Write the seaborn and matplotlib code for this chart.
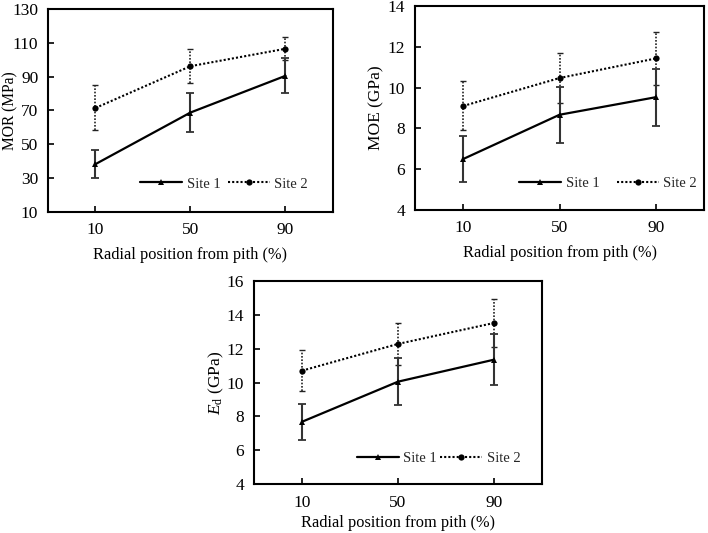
import numpy as np
import pandas as pd
import seaborn as sns
from matplotlib import pyplot as plt

# radial positions (% from pith)
positions = [10, 50, 90]
sites = ['Site 1', 'Site 2']

# MOR (MPa)
mor_site1 = [38.3, 68.8, 90.5]
mor_site1_sd = [8.5, 11.8, 10.4]
mor_site2 = [71.5, 96.2, 106.5]
mor_site2_sd = [13.3, 10.0, 6.7]

# MOE (GPa)
moe_site1 = [6.5, 8.67, 9.53]
moe_site1_sd = [1.14, 1.38, 1.4]
moe_site2 = [9.1, 10.47, 11.43]
moe_site2_sd = [1.2, 1.22, 1.3]

# Ed (GPa)
ed_site1 = [7.68, 10.05, 11.35]
ed_site1_sd = [1.05, 1.4, 1.52]
ed_site2 = [10.7, 12.28, 13.52]
ed_site2_sd = [1.2, 1.23, 1.4]

sns.set_theme(style='ticks')
plt.rcParams['font.family'] = ['Liberation Serif', 'DejaVu Serif']
plt.rcParams['mathtext.fontset'] = 'custom'
plt.rcParams['mathtext.rm'] = 'Liberation Serif'
plt.rcParams['mathtext.it'] = 'Liberation Serif:italic'

tick_fs = 12.5
label_fs = 11.8
legend_fs = 10.5


def panel(ax, s1, s1_sd, s2, s2_sd, ylabel, ylabel_fs, yticks, ylabel_x,
          legend_anchor, colspace, xtick_pad=7, xlabel_pad=7):
    df = pd.DataFrame({
        'pos': positions * 2,
        'val': s1 + s2,
        'site': [sites[0]] * 3 + [sites[1]] * 3,
    })
    # error bars first so the lines sit on top
    eb2 = ax.errorbar(positions, s2, yerr=s2_sd, fmt='none', ecolor='#222222',
                      elinewidth=1.2, capsize=2.5, capthick=1.0)
    eb2[2][0].set_linestyle((0, (1, 1)))
    ax.errorbar(positions, s1, yerr=s1_sd, fmt='none', ecolor='#333333',
                elinewidth=1.5, capsize=2.8, capthick=1.3)
    sns.lineplot(data=df, x='pos', y='val', style='site', hue='site',
                 palette=['black', 'black'], markers=['^', 'o'],
                 dashes=[(None, None), (1, 1)], markersize=4.5,
                 markeredgewidth=0, ax=ax, legend=True)
    for ln in ax.get_lines():
        if ln.get_linestyle() == '-':
            ln.set_linewidth(1.6)
    ax.set_xlim(-10, 110)
    ax.set_ylim(yticks[0], yticks[-1])
    ax.set_xticks(positions)
    ax.set_xticklabels([str(p) for p in positions])
    ax.set_yticks(yticks)
    ax.tick_params(direction='in', length=4, width=1.2, colors='black',
                   labelsize=tick_fs, pad=7)
    ax.tick_params(axis='x', pad=xtick_pad)
    for sp in ax.spines.values():
        sp.set_visible(True)
        sp.set_linewidth(1.5)
        sp.set_color('black')
    ax.set_xlabel('Radial position from pith (%)', fontsize=label_fs, color='black',
                  labelpad=xlabel_pad)
    ax.set_ylabel(ylabel, fontsize=ylabel_fs, color='black')
    ax.yaxis.set_label_coords(ylabel_x, 0.5)
    h, l = ax.get_legend_handles_labels()
    ax.legend(h, l, loc='center right', bbox_to_anchor=legend_anchor, ncol=2,
              frameon=False, fontsize=legend_fs, handlelength=2.9,
              columnspacing=colspace, handletextpad=0.3, borderpad=0,
              borderaxespad=0)


fig = plt.figure(figsize=(7.08, 5.33), dpi=100)
ax1 = fig.add_axes([0.0678, 0.6023, 0.4025, 0.3808])
ax2 = fig.add_axes([0.5862, 0.606, 0.4082, 0.3827])
ax3 = fig.add_axes([0.3588, 0.0919, 0.4068, 0.3809])

panel(ax1, mor_site1, mor_site1_sd, mor_site2, mor_site2_sd, 'MOR (MPa)', 11.2,
      [10, 30, 50, 70, 90, 110, 130], -0.105, (0.912, 0.138), 0.5)
panel(ax2, moe_site1, moe_site1_sd, moe_site2, moe_site2_sd, 'MOE (GPa)', 12.5,
      [4, 6, 8, 10, 12, 14], -0.107, (0.976, 0.132), 1.2)
panel(ax3, ed_site1, ed_site1_sd, ed_site2, ed_site2_sd, r'$E_{\mathrm{d}}$ (GPa)', 12.5,
      [4, 6, 8, 10, 12, 14, 16], -0.097, (0.924, 0.128), 0.2,
      xtick_pad=8, xlabel_pad=3)

fig.savefig('out.png', dpi=100)
